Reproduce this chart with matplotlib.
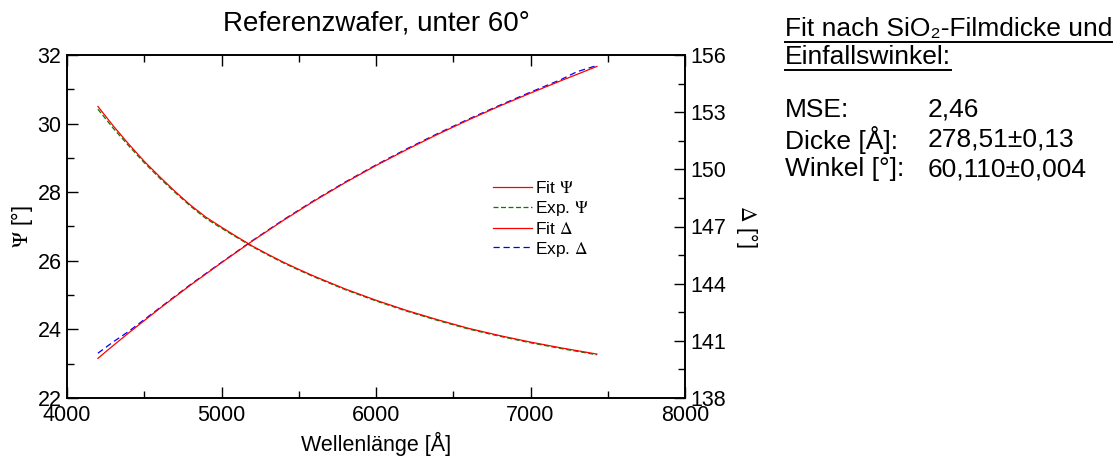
import matplotlib
matplotlib.use('Agg')
import matplotlib.pyplot as plt
from matplotlib.lines import Line2D
from matplotlib.ticker import MultipleLocator

plt.rcParams['font.family'] = ['Liberation Sans', 'DejaVu Sans']
plt.rcParams['mathtext.fontset'] = 'stix'

# Psi (left axis)
lam_psi = [4200, 4300, 4400, 4500, 4600, 4700, 4800, 4900, 5000, 5100, 5200, 5300,
           5400, 5500, 5600, 5800, 6000, 6200, 6400, 6600, 6800, 7000, 7200, 7430]
psi_fit = [30.50, 29.93, 29.40, 28.90, 28.45, 28.02, 27.62, 27.27, 26.98, 26.70, 26.43, 26.19,
           25.96, 25.75, 25.55, 25.18, 24.85, 24.55, 24.28, 24.03, 23.82, 23.63, 23.46, 23.28]
psi_exp = [30.42, 29.86, 29.35, 28.86, 28.41, 27.99, 27.59, 27.23, 26.95, 26.68, 26.41, 26.17,
           25.94, 25.73, 25.53, 25.16, 24.83, 24.53, 24.26, 24.01, 23.80, 23.61, 23.44, 23.26]

# Delta (right axis)
lam_delta = [4200, 4300, 4400, 4600, 4800, 5000, 5200, 5400, 5600, 5800, 6000,
             6200, 6400, 6600, 6800, 7000, 7200, 7300, 7430]
delta_fit = [140.08, 140.76, 141.42, 142.70, 143.93, 145.10, 146.24, 147.32, 148.34, 149.30,
             150.20, 151.04, 151.84, 152.60, 153.32, 154.00, 154.66, 154.98, 155.40]
delta_exp = [140.35, 140.95, 141.50, 142.73, 143.96, 145.12, 146.26, 147.35, 148.37, 149.33,
             150.23, 151.08, 151.88, 152.64, 153.36, 154.05, 154.72, 155.12, 155.45]

fig = plt.figure(figsize=(11.2, 4.57), dpi=100)
ax = fig.add_axes([67/1120, 1-398/457, 618/1120, 343/457])
ax2 = ax.twinx()

l1, = ax.plot(lam_psi, psi_fit, color='red', lw=0.9, label=r'Fit $\Psi$', zorder=3)
l2, = ax.plot(lam_psi, psi_exp, color='green', lw=0.9, ls=(0, (4, 2)), label=r'Exp. $\Psi$', zorder=2)
l3, = ax2.plot(lam_delta, delta_fit, color='red', lw=0.9, label=r'Fit $\Delta$', zorder=3)
l4, = ax2.plot(lam_delta, delta_exp, color='blue', lw=0.9, ls=(0, (5, 3)), label=r'Exp. $\Delta$', zorder=2)

ax.set_xlim(4000, 8000)
ax.set_ylim(22, 32)
ax2.set_ylim(138, 156)
ax.xaxis.set_major_locator(MultipleLocator(1000))
ax.xaxis.set_minor_locator(MultipleLocator(500))
ax.yaxis.set_major_locator(MultipleLocator(2))
ax.yaxis.set_minor_locator(MultipleLocator(1))
ax2.yaxis.set_major_locator(MultipleLocator(3))
ax2.yaxis.set_minor_locator(MultipleLocator(1.5))

fs_tick = 15.5
ax.tick_params(which='both', direction='in', top=True, right=False, labelsize=fs_tick, width=1)
ax.tick_params(which='major', length=8)
ax.tick_params(which='minor', length=5)
ax.tick_params(axis='x', pad=5)
ax.tick_params(axis='y', pad=4)
ax2.tick_params(which='both', direction='in', labelsize=fs_tick, width=1, pad=4)
ax2.tick_params(which='major', length=8)
ax2.tick_params(which='minor', length=5)
for a in (ax, ax2):
    for s in a.spines.values():
        s.set_linewidth(1.2)

ax.set_xlabel('Wellenlänge [Å]', fontsize=fs_tick, labelpad=4)
ax.set_ylabel(r'$\Psi$ [°]', fontsize=fs_tick, labelpad=2)
ax2.set_ylabel(r'$\Delta$ [°]', fontsize=fs_tick, rotation=270, labelpad=24)
ax.set_title('Referenzwafer, unter 60°', fontsize=20, pad=18)

ax.legend(handles=[l1, l2, l3, l4], loc='upper left', bbox_to_anchor=(0.69, 0.635),
          frameon=False, fontsize=12.5, handlelength=2.2, handletextpad=0.2,
          labelspacing=0.16, borderpad=0.0, borderaxespad=0.0)

# text block on the right
fs = 19
x0 = 785 / 1120
x1 = 928 / 1120
h1 = fig.text(x0, 1-29/457, 'Fit nach SiO₂-Filmdicke und', fontsize=fs, va='center')
h2 = fig.text(x0, 1-57/457, 'Einfallswinkel:', fontsize=fs, va='center')
rows = [('MSE:', '2,46'), ('Dicke [Å]:', '278,51±0,13'), ('Winkel [°]:', '60,110±0,004')]
ys = [110, 140, 169]
for (k, v), y in zip(rows, ys):
    fig.text(x0, 1-y/457, k, fontsize=fs, va='center')
    fig.text(x1, 1-y/457, v, fontsize=fs, va='center')

fig.canvas.draw()
r = fig.canvas.get_renderer()
for t in (h1, h2):
    bb = t.get_window_extent(r)
    yy = (bb.y0 - 1) / fig.bbox.height
    fig.add_artist(Line2D([bb.x0 / fig.bbox.width, bb.x1 / fig.bbox.width], [yy, yy],
                          color='black', lw=1.4, transform=fig.transFigure))

fig.savefig('out.png', dpi=100)
